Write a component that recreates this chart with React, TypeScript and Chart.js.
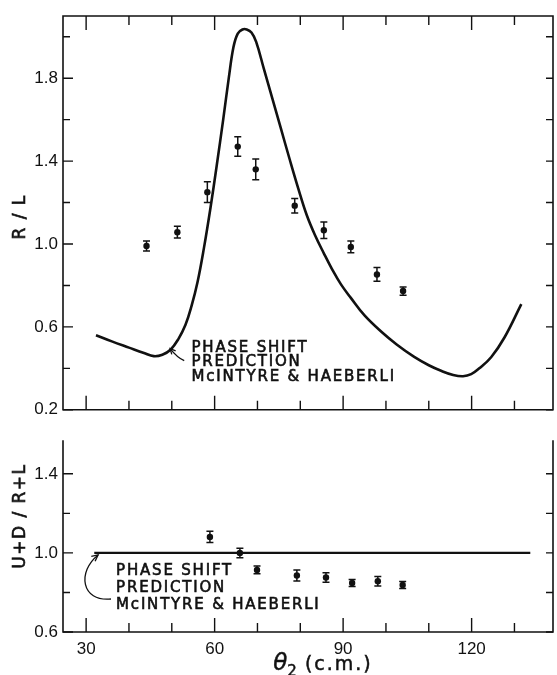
import React, { useEffect, useRef } from 'react';
import { Chart, registerables } from 'chart.js';

Chart.register(...registerables);

// ---- axes ----
const X_MIN = 24.6;
const X_MAX = 139;
const xTickLabels = [30, 60, 90, 120];
const xMinorTicks = [30, 40, 50, 60, 70, 80, 90, 100, 110, 120, 130];
const topYTickLabels = [0.2, 0.6, 1.0, 1.4, 1.8];
const topYMinorTicks = [0.4, 0.8, 1.2, 1.6, 2.0];
const bottomYTickLabels = [0.6, 1.0, 1.4];
const bottomYMinorTicks = [0.8, 1.2];

// ---- R/L measured ----
const rlAngles = [44.1, 51.3, 58.3, 65.4, 69.6, 78.7, 85.5, 91.8, 97.9, 104.0];
const rlValues = [0.99, 1.057, 1.25, 1.47, 1.36, 1.185, 1.066, 0.986, 0.853, 0.773];
const rlErrors = [0.024, 0.028, 0.05, 0.047, 0.05, 0.035, 0.04, 0.028, 0.033, 0.02];

// ---- R/L phase shift prediction ----
const rlCurveAngles = [32.3, 36, 40, 43.5, 45.8, 47.8, 49.7, 51.5, 53.2, 54.6, 56, 57.5, 59, 60.5, 62, 63.3, 64.4, 65.4, 66.5, 67.5, 68.6, 69.7, 71.5, 73.5, 75.5, 77.5, 79.5, 81.5, 83.5, 85.5, 87.5, 89.5, 91.8, 95, 99, 102.5, 106.6, 110, 113, 115.7, 118, 119.9, 121.8, 124.6, 127.7, 131.6];
const rlCurveValues = [0.56, 0.53, 0.5, 0.474, 0.459, 0.466, 0.49, 0.54, 0.61, 0.7, 0.815, 0.98, 1.17, 1.38, 1.6, 1.8, 1.95, 2.015, 2.035, 2.035, 2.02, 1.975, 1.845, 1.7, 1.555, 1.41, 1.27, 1.14, 1.04, 0.955, 0.875, 0.805, 0.74, 0.655, 0.575, 0.515, 0.455, 0.415, 0.387, 0.368, 0.362, 0.372, 0.4, 0.455, 0.55, 0.71];

// ---- U+D / R+L measured ----
const udAngles = [58.9, 65.9, 69.9, 79.2, 86.0, 92.1, 98.1, 103.9];
const udValues = [1.081, 1.0, 0.914, 0.886, 0.876, 0.848, 0.857, 0.838];
const udErrors = [0.028, 0.024, 0.02, 0.028, 0.024, 0.018, 0.024, 0.018];

// ---- U+D / R+L prediction ----
const udCurveAngles = [31.9, 133.7];
const udCurveValues = [1.0, 1.0];

const annotationLines = ['PHASE SHIFT', 'PREDICTION', 'McINTYRE & HAEBERLI'];

const TICK_FONT = { family: '"Liberation Sans", Arial, sans-serif', size: 17 };
const TEXT_FONT = '15px "DejaVu Sans", sans-serif';

function toPts(xs: number[], ys: number[]) {
  return xs.map((x, i) => ({ x, y: ys[i] }));
}

function arrowHead(ctx: CanvasRenderingContext2D, tipX: number, tipY: number, fromX: number, fromY: number, len: number) {
  const ang = Math.atan2(tipY - fromY, tipX - fromX);
  ctx.beginPath();
  ctx.moveTo(tipX - len * Math.cos(ang - 0.45), tipY - len * Math.sin(ang - 0.45));
  ctx.lineTo(tipX, tipY);
  ctx.lineTo(tipX - len * Math.cos(ang + 0.45), tipY - len * Math.sin(ang + 0.45));
  ctx.stroke();
}

function boldText(ctx: CanvasRenderingContext2D, t: string, x: number, y: number) {
  ctx.fillText(t, x, y);
  ctx.strokeText(t, x, y);
}

function makeFramePlugin(cfg: {
  topBorder: boolean;
  yMajor: number[];
  yMinor: number[];
  ex: number[];
  ey: number[];
  ee: number[];
  extra: (chart: any) => void;
}) {
  return {
    id: 'frameAndBars',
    afterDatasetsDraw(chart: any) {
      const { ctx, chartArea: a, scales } = chart;
      const xs = scales.x;
      const ys = scales.y;
      ctx.save();
      ctx.strokeStyle = '#111';
      ctx.lineWidth = 1.6;
      ctx.beginPath();
      if (cfg.topBorder) {
        ctx.moveTo(a.left, a.top);
        ctx.lineTo(a.right, a.top);
        ctx.lineTo(a.right, a.bottom);
        ctx.lineTo(a.left, a.bottom);
        ctx.closePath();
      } else {
        ctx.moveTo(a.left, a.top);
        ctx.lineTo(a.left, a.bottom);
        ctx.lineTo(a.right, a.bottom);
        ctx.lineTo(a.right, a.top);
      }
      ctx.stroke();

      ctx.lineWidth = 1.4;
      ctx.beginPath();
      for (const v of xMinorTicks) {
        const px = xs.getPixelForValue(v);
        const len = xTickLabels.includes(v) ? 14 : 9;
        ctx.moveTo(px, a.bottom);
        ctx.lineTo(px, a.bottom - len);
        if (cfg.topBorder) {
          ctx.moveTo(px, a.top);
          ctx.lineTo(px, a.top + len);
        }
      }
      const allY = [...cfg.yMajor, ...cfg.yMinor];
      for (const v of allY) {
        if (v < ys.min || v > ys.max) continue;
        const py = ys.getPixelForValue(v);
        const len = cfg.yMajor.includes(v) ? 10 : 7;
        ctx.moveTo(a.left, py);
        ctx.lineTo(a.left + len, py);
        ctx.moveTo(a.right, py);
        ctx.lineTo(a.right - 7, py);
      }
      ctx.stroke();

      // error bars
      ctx.lineWidth = 1.5;
      ctx.beginPath();
      cfg.ex.forEach((x, i) => {
        const px = xs.getPixelForValue(x);
        const y1 = ys.getPixelForValue(cfg.ey[i] - cfg.ee[i]);
        const y2 = ys.getPixelForValue(cfg.ey[i] + cfg.ee[i]);
        ctx.moveTo(px, y1);
        ctx.lineTo(px, y2);
        ctx.moveTo(px - 3.5, y1);
        ctx.lineTo(px + 3.5, y1);
        ctx.moveTo(px - 3.5, y2);
        ctx.lineTo(px + 3.5, y2);
      });
      ctx.stroke();
      ctx.restore();

      ctx.save();
      cfg.extra(chart);
      ctx.restore();
    },
  };
}

function drawLines(ctx: CanvasRenderingContext2D, x: number, y: number, gap: number) {
  ctx.fillStyle = '#111';
  ctx.strokeStyle = '#111';
  ctx.lineWidth = 0.6;
  ctx.font = TEXT_FONT;
  (ctx as any).letterSpacing = '1.8px';
  ctx.textAlign = 'left';
  ctx.textBaseline = 'middle';
  annotationLines.forEach((t, i) => boldText(ctx, t, x, y + i * gap));
  (ctx as any).letterSpacing = '0px';
}

function drawVerticalTitle(ctx: CanvasRenderingContext2D, text: string, cx: number, cy: number) {
  ctx.save();
  ctx.translate(cx, cy);
  ctx.rotate(-Math.PI / 2);
  ctx.fillStyle = '#111';
  ctx.strokeStyle = '#111';
  ctx.lineWidth = 0.6;
  ctx.font = '17px "DejaVu Sans", sans-serif';
  (ctx as any).letterSpacing = '1.5px';
  ctx.textAlign = 'center';
  ctx.textBaseline = 'middle';
  boldText(ctx, text, 0, 0);
  ctx.restore();
}

const baseScaleY = (min: number, max: number, ticks: number[]) => ({
  type: 'linear' as const,
  position: 'left' as const,
  min,
  max,
  grid: { display: false, drawTicks: false },
  border: { display: false },
  afterBuildTicks: (s: any) => {
    s.ticks = ticks.map((v) => ({ value: v }));
  },
  afterFit: (s: any) => {
    s.width = 63;
  },
  ticks: {
    padding: 5,
    color: '#111',
    font: TICK_FONT,
    autoSkip: false,
    callback: (v: any) => Number(v).toFixed(1),
  },
});

export default function App() {
  const topRef = useRef<HTMLCanvasElement>(null);
  const botRef = useRef<HTMLCanvasElement>(null);

  useEffect(() => {
    const topPlugin = makeFramePlugin({
      topBorder: true,
      yMajor: topYTickLabels,
      yMinor: topYMinorTicks,
      ex: rlAngles,
      ey: rlValues,
      ee: rlErrors,
      extra: (chart: any) => {
        const { ctx, scales, chartArea: a } = chart;
        const xs = scales.x;
        const ys = scales.y;
        drawLines(ctx, xs.getPixelForValue(54.6), ys.getPixelForValue(0.5), 14.5);
        ctx.strokeStyle = '#111';
        ctx.lineWidth = 1.3;
        const sx = xs.getPixelForValue(52.9);
        const sy = ys.getPixelForValue(0.437);
        const tx = xs.getPixelForValue(49.6);
        const ty = ys.getPixelForValue(0.495);
        ctx.beginPath();
        ctx.moveTo(sx, sy);
        ctx.quadraticCurveTo(sx - 7, sy - 3, tx, ty);
        ctx.stroke();
        arrowHead(ctx, tx, ty, sx - 6, sy - 3, 6);
        drawVerticalTitle(ctx, 'R / L', 21, (a.top + a.bottom) / 2 + 4);
      },
    });

    const botPlugin = makeFramePlugin({
      topBorder: false,
      yMajor: bottomYTickLabels,
      yMinor: bottomYMinorTicks,
      ex: udAngles,
      ey: udValues,
      ee: udErrors,
      extra: (chart: any) => {
        const { ctx, scales, chartArea: a } = chart;
        const xs = scales.x;
        const ys = scales.y;
        drawLines(ctx, xs.getPixelForValue(37.0), ys.getPixelForValue(0.907), 17);
        ctx.strokeStyle = '#111';
        ctx.lineWidth = 1.3;
        const p = (x: number, y: number) => [xs.getPixelForValue(x), ys.getPixelForValue(y)];
        const [s0x, s0y] = p(35.8, 0.767);
        const [c1x, c1y] = p(28.8, 0.752);
        const [c2x, c2y] = p(27.9, 0.905);
        const [ex, ey] = p(32.8, 0.99);
        ctx.beginPath();
        ctx.moveTo(s0x, s0y);
        ctx.bezierCurveTo(c1x, c1y, c2x, c2y, ex, ey);
        ctx.stroke();
        arrowHead(ctx, ex, ey, c2x, c2y, 7);
        drawVerticalTitle(ctx, 'U+D / R+L', 21, (a.top + a.bottom) / 2 - 20);

        // x-axis title: θ2 (c.m.)
        const cx = (a.left + a.right) / 2 + 15;
        const by = a.bottom + 38;
        ctx.fillStyle = '#111';
        ctx.strokeStyle = '#111';
        ctx.lineWidth = 0.5;
        ctx.textBaseline = 'alphabetic';
        ctx.textAlign = 'left';
        ctx.font = 'italic 23px "DejaVu Sans", sans-serif';
        const wTheta = ctx.measureText('θ').width;
        ctx.font = '15px "DejaVu Sans", sans-serif';
        const wSub = ctx.measureText('2').width;
        ctx.font = '19px "DejaVu Sans", sans-serif';
        (ctx as any).letterSpacing = '2px';
        const rest = ' (c.m.)';
        const wRest = ctx.measureText(rest).width;
        const total = wTheta + wSub + wRest;
        let x0 = cx - total / 2;
        (ctx as any).letterSpacing = '0px';
        ctx.font = 'italic 23px "DejaVu Sans", sans-serif';
        boldText(ctx, 'θ', x0, by);
        x0 += wTheta;
        ctx.font = '15px "DejaVu Sans", sans-serif';
        boldText(ctx, '2', x0, by + 6);
        x0 += wSub;
        ctx.font = '19px "DejaVu Sans", sans-serif';
        (ctx as any).letterSpacing = '2px';
        boldText(ctx, rest, x0, by);
        (ctx as any).letterSpacing = '0px';
      },
    });

    const commonPlugins = {
      legend: { display: false },
      tooltip: { enabled: false },
      title: { display: false },
    };

    const top = new Chart(topRef.current!, {
      type: 'scatter',
      data: {
        datasets: [
          {
            data: toPts(rlCurveAngles, rlCurveValues),
            showLine: true,
            borderColor: '#111',
            borderWidth: 2.6,
            pointRadius: 0,
            tension: 0.4,
          } as any,
          {
            data: toPts(rlAngles, rlValues),
            pointRadius: 3.2,
            pointBackgroundColor: '#111',
            pointBorderColor: '#111',
            pointBorderWidth: 0,
          },
        ],
      },
      options: {
        responsive: false,
        animation: false,
        events: [],
        layout: { padding: { top: 16, right: 3, bottom: 8, left: 0 } },
        plugins: commonPlugins as any,
        scales: {
          x: { type: 'linear', min: X_MIN, max: X_MAX, display: false },
          y: baseScaleY(0.2, 2.1, topYTickLabels) as any,
        },
      },
      plugins: [topPlugin],
    });

    const bot = new Chart(botRef.current!, {
      type: 'scatter',
      data: {
        datasets: [
          {
            data: toPts(udCurveAngles, udCurveValues),
            showLine: true,
            borderColor: '#111',
            borderWidth: 2.2,
            pointRadius: 0,
          } as any,
          {
            data: toPts(udAngles, udValues),
            pointRadius: 3.2,
            pointBackgroundColor: '#111',
            pointBorderColor: '#111',
            pointBorderWidth: 0,
          },
        ],
      },
      options: {
        responsive: false,
        animation: false,
        events: [],
        layout: { padding: { top: 3, right: 3, bottom: 0, left: 0 } },
        plugins: commonPlugins as any,
        scales: {
          x: {
            type: 'linear',
            min: X_MIN,
            max: X_MAX,
            position: 'bottom',
            grid: { display: false, drawTicks: false },
            border: { display: false },
            afterBuildTicks: (s: any) => {
              s.ticks = xTickLabels.map((v) => ({ value: v }));
            },
            afterFit: (s: any) => {
              s.height = 43;
            },
            ticks: {
              padding: 7,
              color: '#111',
              font: TICK_FONT,
              autoSkip: false,
              maxRotation: 0,
              callback: (v: any) => String(v),
            },
          } as any,
          y: baseScaleY(0.6, 1.57, bottomYTickLabels) as any,
        },
      },
      plugins: [botPlugin],
    });

    return () => {
      top.destroy();
      bot.destroy();
    };
  }, []);

  return (
    <div style={{ position: 'absolute', left: 0, top: 0, width: 557, height: 675, background: '#fff' }}>
      <canvas ref={topRef} width={557} height={425} style={{ position: 'absolute', left: 0, top: 0 }} />
      <canvas ref={botRef} width={557} height={250} style={{ position: 'absolute', left: 0, top: 425 }} />
    </div>
  );
}
